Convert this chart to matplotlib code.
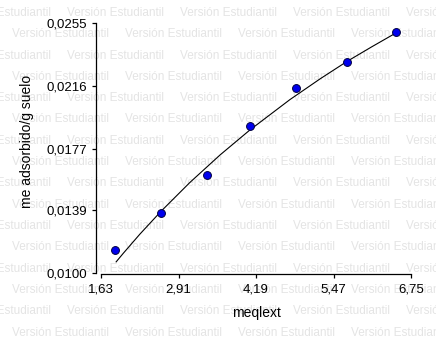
import matplotlib
matplotlib.use('Agg')
import matplotlib.pyplot as plt
import numpy as np

# measured points
meqlext = [1.86, 2.62, 3.38, 4.09, 4.85, 5.69, 6.50]
me_ads = [0.01143, 0.01372, 0.01608, 0.01911, 0.02147, 0.02308, 0.02494]

# fitted curve
fit_x = [1.88, 2.00, 2.27, 2.62, 3.10, 3.60, 4.09, 4.75, 5.25, 5.69, 6.10, 6.50]
fit_y = [0.01069, 0.01123, 0.01240, 0.01382, 0.01562, 0.01733, 0.01887,
         0.02075, 0.02204, 0.02311, 0.02402, 0.02488]

xticks = [1.63, 2.91, 4.19, 5.47, 6.75]
xtick_labels = ['1,63', '2,91', '4,19', '5,47', '6,75']
yticks = [0.0100, 0.0139, 0.0177, 0.0216, 0.0255]
ytick_labels = ['0,0100', '0,0139', '0,0177', '0,0216', '0,0255']

watermark = 'Versión Estudiantil'

plt.rcParams['font.family'] = ['Liberation Sans', 'DejaVu Sans']

W, H = 436, 343
fig = plt.figure(figsize=(W / 100, H / 100), dpi=100)
ax = fig.add_axes([101 / W, 1 - 273 / H, 310 / W, 250 / H])
ax.patch.set_alpha(0)

# background watermark, rows alternate in offset
for k in range(16):
    ypix = 13 + 21.3 * k
    x0 = -46 if k % 2 == 0 else 12
    for i in range(5):
        fig.text((x0 + 113 * i) / W, 1 - ypix / H, watermark, fontsize=8.5,
                 color='#e4e4e4', ha='left', va='center', zorder=-5)

ax.plot(fit_x, fit_y, color='black', lw=0.8, zorder=2)
ax.scatter(meqlext, me_ads, s=32, color='#0000ee', edgecolor='#000040',
           linewidth=0.7, zorder=3)

ax.set_xlim(xticks[0], xticks[-1])
ax.set_ylim(yticks[0], yticks[-1])
ax.set_xticks(xticks)
ax.set_xticklabels(xtick_labels)
ax.set_yticks(yticks)
ax.set_yticklabels(ytick_labels)

for s in ['top', 'right']:
    ax.spines[s].set_visible(False)
ax.spines['left'].set_position(('outward', 3.6))
ax.spines['bottom'].set_position(('outward', 0.8))
for s in ['left', 'bottom']:
    ax.spines[s].set_linewidth(0.9)

ax.tick_params(axis='both', direction='out', length=3, width=0.9, labelsize=9.5)
ax.tick_params(axis='x', pad=4)
ax.tick_params(axis='y', pad=3.2)

ax.set_xlabel('meqlext', fontsize=10)
ax.set_ylabel('me adsorbido/g suelo', fontsize=10)
ax.xaxis.set_label_coords(0.5, -0.13)
ax.yaxis.set_label_coords(-0.216, 0.525)

fig.savefig('out.png', dpi=100)
